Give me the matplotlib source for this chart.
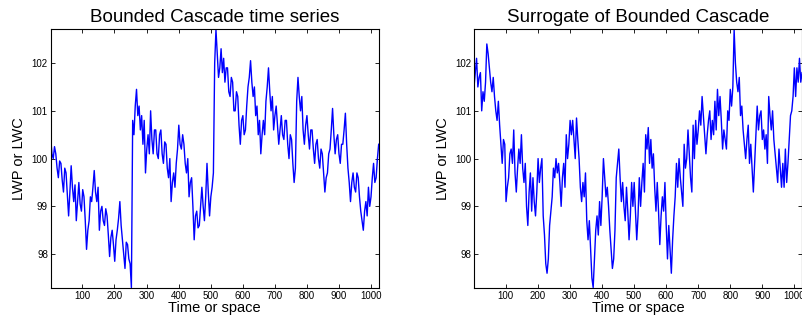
import numpy as np
import matplotlib
matplotlib.use('Agg')
import matplotlib.pyplot as plt

# bounded cascade (one value every ~4 samples, 8 per row)
cascade = [
    100.45, 100.1, 100.0, 100.25, 100.1, 99.8, 99.6, 99.95,
    99.9, 99.55, 99.3, 99.8, 99.7, 99.25, 98.8, 99.3,
    99.85, 99.4, 99.1, 99.45, 98.7, 99.1, 99.5, 99.05,
    98.9, 99.35, 99.2, 98.7, 98.1, 98.5, 98.7, 99.2,
    99.1, 99.4, 99.75, 99.3, 99.1, 99.4, 98.5, 98.9,
    99.0, 98.7, 98.6, 98.95, 98.8, 98.4, 97.95, 98.35,
    98.5, 98.2, 97.85, 98.3, 98.5, 98.75, 99.1, 98.6,
    98.3, 98.0, 97.7, 98.25, 98.2, 97.9, 97.8, 97.3,
    100.8, 100.5, 101.1, 101.45, 100.9, 101.1, 100.6, 100.9,
    100.3, 100.8, 99.7, 100.2, 100.5, 100.1, 101.0, 100.4,
    100.1, 100.6, 100.6, 100.1, 100.0, 100.5, 100.6, 100.1,
    99.9, 100.35, 100.3, 99.8, 99.6, 100.0, 99.1, 99.5,
    99.7, 99.4, 99.9, 100.2, 100.7, 100.3, 100.2, 100.5,
    100.3, 99.9, 99.7, 100.0, 99.2, 99.5, 99.6, 99.0,
    98.3, 98.8, 98.9, 98.55, 98.6, 99.0, 99.4, 99.0,
    98.7, 99.2, 99.9, 99.3, 98.8, 99.2, 99.4, 99.7,
    102.0, 102.7, 102.2, 101.7, 101.9, 102.3, 101.8, 102.1,
    101.6, 101.9, 101.9, 101.4, 101.3, 101.7, 101.6, 101.0,
    101.0, 101.4, 101.3, 100.7, 100.3, 100.8, 100.9, 100.5,
    100.6, 101.1, 101.5, 101.7, 102.05, 101.6, 101.3, 101.5,
    100.9, 101.1, 100.5, 100.8, 100.1, 100.5, 100.8, 100.5,
    101.2, 101.5, 101.9, 101.4, 101.0, 101.3, 100.6, 100.9,
    101.1, 100.7, 100.3, 100.6, 100.9, 100.5, 100.4, 100.8,
    100.8, 100.3, 100.0, 100.5, 100.4, 99.9, 99.5, 99.8,
    101.2, 101.7, 101.3, 101.0, 101.3, 100.6, 100.3, 100.7,
    100.9, 100.5, 100.2, 100.6, 100.6, 100.2, 99.9, 100.3,
    100.4, 100.0, 99.8, 100.2, 100.1, 99.7, 99.3, 99.6,
    99.7, 100.1, 100.2, 100.6, 101.05, 100.5, 100.1, 100.4,
    100.5, 100.1, 99.9, 100.3, 100.3, 100.6, 100.95, 100.3,
    99.8, 99.5, 99.1, 99.5, 99.7, 99.4, 99.3, 99.7,
    99.6, 99.2, 98.9, 98.7, 98.5, 98.9, 99.1, 98.8,
    99.4, 99.0, 99.2, 99.6, 99.9, 99.5, 99.6, 100.0,
    100.3,
]

# surrogate series (same spacing)
surrogate = [
    101.5, 101.8, 102.1, 101.5, 101.7, 101.8, 101.0, 101.4,
    101.2, 101.6, 102.4, 102.2, 101.9, 101.6, 101.4, 101.7,
    101.3, 101.0, 100.8, 101.2, 100.7, 100.3, 99.9, 100.4,
    100.3, 99.1, 99.4, 99.6, 100.1, 100.2, 99.9, 100.6,
    99.7, 99.3, 99.8, 100.2, 99.9, 100.5, 99.8, 99.5,
    99.9, 99.0, 98.6, 99.3, 99.7, 98.9, 99.6, 99.1,
    98.8, 99.3, 100.0, 99.5, 99.8, 100.0, 98.8, 98.4,
    97.8, 97.6, 97.9, 98.6, 98.9, 99.2, 99.8, 99.6,
    100.0, 99.7, 99.9, 99.5, 99.0, 99.6, 99.9, 99.4,
    100.5, 100.0, 100.3, 100.8, 100.5, 100.8, 100.4, 100.0,
    100.85, 100.4, 100.0, 99.4, 99.1, 99.5, 99.2, 99.7,
    98.7, 98.3, 98.7, 98.1, 97.5, 97.3, 97.9, 98.5,
    98.8, 98.4, 99.1, 98.6, 99.2, 100.0, 99.6, 99.2,
    99.4, 99.0, 98.5, 98.1, 97.7, 97.9, 98.5, 99.6,
    99.9, 100.2, 99.6, 99.1, 99.5, 99.0, 98.7, 99.4,
    98.9, 98.3, 98.8, 99.5, 99.0, 99.5, 98.9, 98.3,
    98.8, 99.6, 99.0, 99.5, 99.9, 99.3, 100.5, 100.2,
    100.65, 99.9, 100.4, 99.8, 100.1, 99.4, 98.9, 99.5,
    98.9, 98.2, 98.8, 99.2, 98.9, 99.5, 98.6, 97.9,
    98.6, 98.1, 97.6, 98.3, 98.8, 99.2, 99.9, 99.4,
    100.0, 99.6, 99.3, 99.0, 100.3, 99.8, 100.0, 100.6,
    100.1, 99.6, 99.3, 100.7, 100.0, 100.8, 100.3, 100.6,
    101.0, 100.7, 101.3, 100.9, 100.5, 100.1, 100.5, 100.8,
    101.0, 100.4, 100.8, 100.5, 101.2, 100.6, 101.45, 100.9,
    101.3, 100.8, 100.2, 100.6, 100.4, 100.2, 101.0, 100.8,
    101.45, 101.1, 101.5, 102.7, 102.0, 101.6, 101.4, 101.7,
    100.9, 101.1, 100.6, 100.3, 100.0, 100.4, 100.7, 99.9,
    100.3, 99.8, 99.3, 99.9, 100.5, 101.1, 100.6, 100.9,
    101.0, 100.4, 100.6, 100.2, 100.5, 99.9, 101.3, 100.9,
    100.6, 101.0, 100.4, 100.1, 99.8, 99.5, 100.2, 99.8,
    99.4, 99.9, 99.4, 100.2, 99.5, 99.9, 100.4, 100.9,
    101.0, 101.3, 101.9, 101.3, 101.9, 101.6, 102.1, 101.6,
    101.8,
]

titles = ['Bounded Cascade time series', 'Surrogate of Bounded Cascade']
xticks = [100, 200, 300, 400, 500, 600, 700, 800, 900, 1000]
yticks = [98, 99, 100, 101, 102]

plt.rcParams['font.family'] = ['Liberation Sans', 'DejaVu Sans']

fig = plt.figure(figsize=(8.03, 3.24), dpi=100)
ax1 = fig.add_axes([0.0631, 0.111, 0.4085, 0.799])
ax2 = fig.add_axes([0.5903, 0.111, 0.4085, 0.799])

for ax, y, title in zip([ax1, ax2], [cascade, surrogate], titles):
    x = np.linspace(1, 1024, len(y))
    ax.plot(x, y, color='#0000ff', lw=1.0)
    ax.set_xlim(1, 1024)
    ax.set_ylim(97.29, 102.71)
    ax.set_xticks(xticks)
    ax.set_yticks(yticks)
    ax.tick_params(direction='in', top=True, right=True, length=3,
                   width=0.6, labelsize=7, pad=2)
    ax.set_title(title, fontsize=13.5, pad=5)
    ax.set_xlabel('Time or space', fontsize=10.5, labelpad=0)
    ax.set_ylabel('LWP or LWC', fontsize=10.5, labelpad=4)
    for s in ax.spines.values():
        s.set_linewidth(0.8)

fig.savefig('out.png', dpi=100)
